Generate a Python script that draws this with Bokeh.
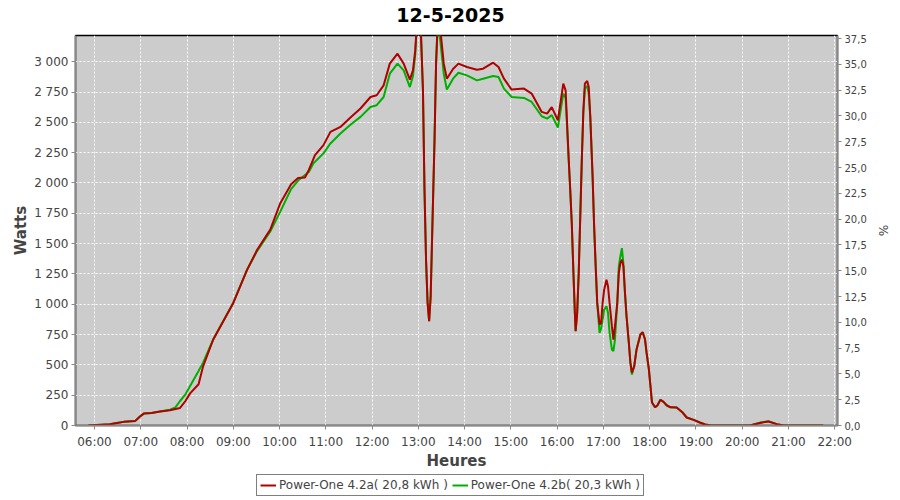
from bokeh.plotting import figure
from bokeh.layouts import column
from bokeh.models import (LinearAxis, Range1d, FixedTicker, Legend, LegendItem, ColumnDataSource, Label)
from bokeh.embed import file_html
from bokeh.resources import INLINE

title_text = "12-5-2025"
label_a = "Power-One 4.2a( 20,8 kWh )"
label_b = "Power-One 4.2b( 20,3 kWh )"

times_a = ["05:52","06:20","06:29","06:38","06:53","06:59","07:04","07:14","07:25","07:38","07:51","07:58",
           "08:04","08:15","08:21","08:34","09:00","09:18","09:31","09:48","10:01","10:15","10:24","10:33",
           "10:38","10:46","10:57","11:06","11:19","11:32","11:45","11:58","12:06","12:15","12:23","12:33",
           "12:41","12:49","12:53","12:56","12:58","13:03","13:06","13:08","13:10","13:12","13:14","13:16",
           "13:18","13:21","13:23","13:25","13:28","13:33","13:37","13:45","13:52","14:03","14:16","14:24",
           "14:37","14:44","14:51","15:01","15:17","15:27","15:40","15:47","15:53","16:01","16:08","16:11",
           "16:15","16:17","16:19","16:21","16:23","16:24","16:26","16:28","16:30","16:32","16:34","16:36",
           "16:39","16:41","16:43","16:46","16:48","16:50","16:52","16:55","16:57","16:59","17:01","17:04",
           "17:06","17:08","17:11","17:13","17:15","17:18","17:20","17:22","17:24","17:26","17:28","17:30",
           "17:33","17:35","17:37","17:40","17:43","17:48","17:51","17:54","17:56","17:59","18:01","18:03",
           "18:07","18:10","18:14","18:18","18:22","18:27","18:35","18:42","18:48","18:57","19:05","19:12",
           "19:20","20:10","20:23","20:34","20:45","20:54","21:45"]
watts_a = [0,10,20,30,38,74,98,104,115,126,145,202,
           265,340,490,709,1011,1285,1449,1615,1833,1990,2040,2045,
           2107,2230,2312,2421,2462,2540,2614,2709,2723,2805,2984,3066,
           2984,2852,2928,3093,3300,3300,2765,1942,1367,1013,860,1065,
           1586,2353,2984,3300,3300,2984,2860,2940,2984,2956,2934,2942,
           2992,2956,2860,2770,2778,2737,2586,2572,2625,2517,2819,2764,
           2200,1942,1668,1285,929,778,929,1258,1723,2189,2600,2819,
           2841,2791,2545,2052,1641,1312,1011,833,847,1011,1120,1202,
           1148,1011,819,709,819,1011,1258,1340,1367,1312,1093,901,
           682,518,436,490,627,750,769,709,600,463,326,190,
           150,165,212,195,167,150,148,112,66,46,25,8,
           0,0,21,33,11,0,0]

times_b = ["05:52","06:20","06:29","06:38","06:53","06:59","07:04","07:14","07:25","07:38","07:45","07:51",
           "07:58","08:04","08:15","08:21","08:34","09:00","09:18","09:31","09:48","10:01","10:15","10:24",
           "10:33","10:38","10:44","10:57","11:06","11:19","11:32","11:45","11:58","12:06","12:15","12:23",
           "12:33","12:41","12:49","12:53","12:56","12:58","13:03","13:06","13:08","13:10","13:12","13:14",
           "13:16","13:18","13:21","13:23","13:25","13:28","13:33","13:37","13:45","13:52","14:03","14:16",
           "14:24","14:37","14:44","14:51","15:01","15:17","15:27","15:40","15:47","15:53","16:01","16:08",
           "16:11","16:15","16:17","16:19","16:21","16:23","16:24","16:26","16:28","16:30","16:32","16:34",
           "16:36","16:39","16:41","16:43","16:46","16:48","16:50","16:52","16:55","16:57","16:59","17:01",
           "17:04","17:06","17:08","17:11","17:13","17:15","17:18","17:20","17:22","17:24","17:26","17:28",
           "17:30","17:33","17:35","17:37","17:40","17:43","17:48","17:51","17:54","17:56","17:59","18:01",
           "18:03","18:07","18:10","18:14","18:18","18:22","18:27","18:35","18:42","18:48","18:57","19:05",
           "19:12","19:20","20:10","20:23","20:34","20:45","20:54","21:45"]
watts_b = [0,10,20,30,38,74,98,104,115,130,150,202,
           257,325,449,520,709,1011,1285,1440,1600,1764,1950,2020,
           2065,2090,2162,2244,2326,2408,2480,2545,2627,2641,2709,2901,
           2984,2928,2791,2880,3060,3300,3300,2765,1942,1367,1013,860,
           1065,1586,2353,2984,3300,3200,2901,2770,2860,2909,2887,2846,
           2860,2882,2874,2778,2709,2701,2668,2550,2531,2559,2457,2737,
           2700,2189,1942,1668,1285,929,778,929,1258,1723,2189,2580,
           2780,2800,2737,2545,2052,1641,1312,1011,764,800,874,956,
           983,929,764,627,613,709,1011,1312,1394,1463,1330,1093,
           901,682,518,420,490,627,750,769,709,600,463,326,
           190,150,165,212,195,167,150,148,112,66,46,25,
           8,0,0,24,36,11,0,0]

x_ticks = [6, 7, 8, 9, 10, 11, 12, 13, 14, 15, 16, 17, 18, 19, 20, 21, 22]
x_labels = ["06:00","07:00","08:00","09:00","10:00","11:00","12:00","13:00","14:00",
            "15:00","16:00","17:00","18:00","19:00","20:00","21:00","22:00"]
w_ticks = [0, 250, 500, 750, 1000, 1250, 1500, 1750, 2000, 2250, 2500, 2750, 3000]
w_labels = ["0","250","500","750","1 000","1 250","1 500","1 750","2 000","2 250","2 500","2 750","3 000"]
p_ticks = [0, 2.5, 5, 7.5, 10, 12.5, 15, 17.5, 20, 22.5, 25, 27.5, 30, 32.5, 35, 37.5]
p_labels = ["0,0","2,5","5,0","7,5","10,0","12,5","15,0","17,5","20,0","22,5","25,0","27,5",
            "30,0","32,5","35,0","37,5"]


def to_hours(t):
    h, m = t.split(":")
    return int(h) + int(m) / 60.0


src_a = ColumnDataSource(dict(x=[to_hours(t) for t in times_a], y=watts_a))
src_b = ColumnDataSource(dict(x=[to_hours(t) for t in times_b], y=watts_b))

FONT = "DejaVu Sans"
TXT = "#444444"
AX = "#888888"
RED = "#b00000"
GREEN = "#00b000"


def blank(height):
    f = figure(width=900, height=height, title=None, output_backend="svg", toolbar_location=None,
               x_axis_location=None, y_axis_location=None, min_border=0,
               x_range=Range1d(-2, -1), y_range=Range1d(-2, -1),
               background_fill_color="white", border_fill_color="white")
    f.outline_line_color = None
    f.grid.visible = False
    return f


# title strip (its frame is aligned with the main frame, which starts 75px in)
p0 = blank(28)
p0.add_layout(Label(x=375, y=14, x_units="screen", y_units="screen", text=title_text,
                    text_align="center", text_baseline="middle", text_font=FONT,
                    text_font_size="19px", text_font_style="bold", text_color="black"))

# main chart
p = figure(width=900, height=444, title=None, output_backend="svg", toolbar_location=None,
           x_range=Range1d(5.59, 22.06), y_range=Range1d(0, 3216),
           min_border_left=75, min_border_right=63, min_border_top=7, min_border_bottom=46,
           background_fill_color="#cccccc", border_fill_color="white")
p.outline_line_color = "black"
p.outline_line_width = 1.5
p.outline_line_alpha = 1

p.extra_y_ranges = {"pct": Range1d(0, 37.8)}
right = LinearAxis(y_range_name="pct", axis_label="%")
p.add_layout(right, "right")

for ax in [p.xaxis[0], p.yaxis[0], right]:
    ax.axis_line_color = AX
    ax.axis_line_width = 1.5
    ax.major_tick_line_color = AX
    ax.major_tick_in = 0
    ax.major_tick_out = 4
    ax.minor_tick_line_color = None
    ax.major_label_text_color = TXT
    ax.major_label_text_font = FONT
    ax.axis_label_text_font = FONT
    ax.axis_label_text_color = TXT
    ax.major_label_standoff = 3

p.xaxis.ticker = FixedTicker(ticks=x_ticks)
p.xaxis.major_label_overrides = {t: l for t, l in zip(x_ticks, x_labels)}
p.xaxis.axis_label = "Heures"
p.xaxis.major_label_text_font_size = "12px"
p.xaxis.axis_label_text_font_size = "15px"
p.xaxis.axis_label_text_font_style = "bold"
p.xaxis.axis_label_standoff = 0
p.xaxis.major_label_standoff = 5

p.yaxis[0].ticker = FixedTicker(ticks=w_ticks)
p.yaxis[0].major_label_overrides = {t: l for t, l in zip(w_ticks, w_labels)}
p.yaxis[0].axis_label = "Watts"
p.yaxis[0].major_label_text_font_size = "12px"
p.yaxis[0].axis_label_text_font_size = "15px"
p.yaxis[0].axis_label_text_font_style = "bold"
p.yaxis[0].axis_label_standoff = 1

right.ticker = FixedTicker(ticks=p_ticks)
right.major_label_overrides = {t: l for t, l in zip(p_ticks, p_labels)}
right.major_label_text_font_size = "10px"
right.axis_label_text_font_size = "12px"
right.axis_label_text_font_style = "normal"
right.axis_label_standoff = 6

p.xgrid.ticker = FixedTicker(ticks=x_ticks)
p.ygrid.ticker = FixedTicker(ticks=w_ticks)
for g in [p.xgrid[0], p.ygrid[0]]:
    g.grid_line_color = "white"
    g.grid_line_dash = "2 2"
    g.grid_line_width = 1

p.line("x", "y", source=src_b, line_color=GREEN, line_width=2)
p.line("x", "y", source=src_a, line_color=RED, line_width=2)

# legend strip: same series drawn outside its (empty) view, only to feed the legend glyphs
p2 = blank(28)
la = p2.line("x", "y", source=src_a, line_color=RED, line_width=2)
lb = p2.line("x", "y", source=src_b, line_color=GREEN, line_width=2)
legend = Legend(items=[LegendItem(label=label_a, renderers=[la]),
                       LegendItem(label=label_b, renderers=[lb])],
                orientation="horizontal", location=(181, 4))
legend.border_line_color = "black"
legend.border_line_width = 1
legend.background_fill_color = "white"
legend.background_fill_alpha = 1
legend.label_text_font = FONT
legend.label_text_font_size = "12px"
legend.label_text_color = TXT
legend.label_height = 12
legend.glyph_width = 16
legend.glyph_height = 12
legend.padding = 3
legend.spacing = 4
legend.label_standoff = 3
legend.margin = 0
p2.add_layout(legend, "center")

layout = column(p0, p, p2, spacing=0)
open("out.html", "w").write(file_html(layout, INLINE))
